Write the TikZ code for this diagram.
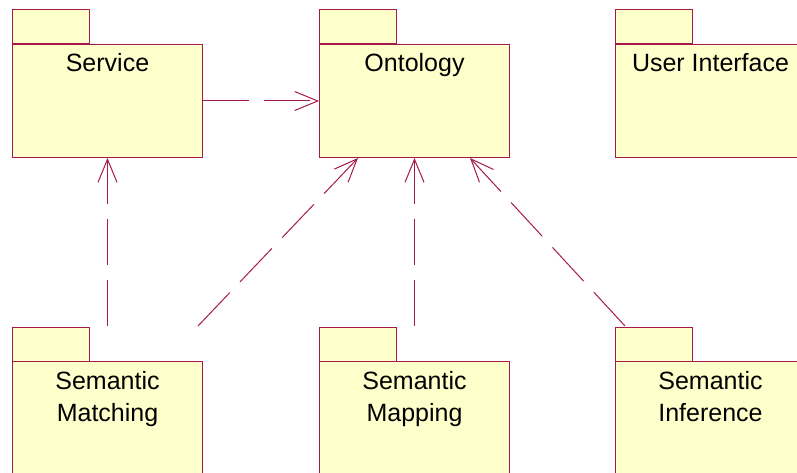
\documentclass[tikz,border=0pt]{standalone}
\usepackage{fontspec}
\setmainfont{Liberation Sans}
\usetikzlibrary{arrows.meta,calc}
\definecolor{pkgline}{RGB}{165,25,75}
\definecolor{pkgfill}{RGB}{255,255,204}
\begin{document}
\begin{tikzpicture}[x=1pt,y=-1pt,
  body/.style={draw=pkgline, fill=pkgfill, line width=1pt, minimum width=190pt,
    minimum height=113pt, inner sep=0pt, anchor=north west},
  tab/.style={draw=pkgline, fill=pkgfill, line width=1pt},
  lbl/.style={font=\fontsize{25}{32}\selectfont, anchor=base, inner sep=0pt, align=center},
  dep/.style={draw=pkgline, line width=1pt, dash pattern=on 46pt off 15pt,
    -{Straight Barb[length=23pt,width=19pt]}}]
\clip (0,0) rectangle (797,473);
% top row
\node[body] (svc) at (12,44) {};
\node[body] (ont) at (319,44) {};
\node[body] (ui) at (615,44) {};
% bottom row
\node[body, minimum height=150pt] (mat) at (12,361) {};
\node[body, minimum height=150pt] (map) at (319,361) {};
\node[body, minimum height=150pt] (inf) at (615,361) {};
% tabs
\foreach \p in {svc,ont,ui,mat,map,inf}{
  \draw[tab] (\p.north west) rectangle ++(77,-34);
}
% labels
\node[lbl] (svcL) at ($(svc.north)+(0,28)$) {Service};
\node[lbl] (ontL) at ($(ont.north)+(0,28)$) {Ontology};
\node[lbl] (uiL) at ($(ui.north)+(0,28)$) {User Interface};
\node[lbl] (matL) at ($(mat.north)+(0,60)$) {Semantic\\Matching};
\node[lbl] (mapL) at ($(map.north)+(0,60)$) {Semantic\\Mapping};
\node[lbl] (infL) at ($(inf.north)+(0,60)$) {Semantic\\Inference};
% dependencies
\draw[dep] (svc.east) -- (ont.west);
\draw[dep] ([yshift=35pt]mat.north) -- (svc.south);
\draw[dep] ([xshift=-5pt,yshift=35pt]mat.north east) -- ($(ont.south west)+(39,0)$);
\draw[dep] ([yshift=35pt]map.north) -- (ont.south);
\draw[dep] ([xshift=10pt,yshift=35pt]inf.north west) -- ($(ont.south east)+(-40,0)$);
\end{tikzpicture}
\end{document}
